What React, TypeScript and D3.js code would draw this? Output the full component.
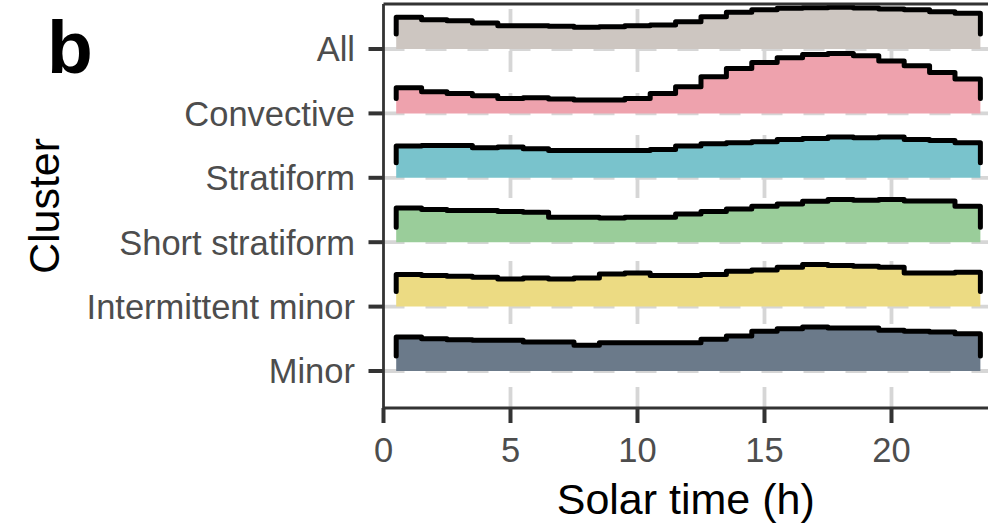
import React from 'react';
import * as d3 from 'd3';

const width = 988;
const height = 525;
const margin = { top: 4, right: 0, bottom: 117, left: 383.5 };

// clusters, top to bottom
const clusters = ['All', 'Convective', 'Stratiform', 'Short stratiform', 'Intermittent minor', 'Minor'];
const colors = ['#cdc6c1', '#eea2ad', '#79c3cc', '#9acd9a', '#ecdb83', '#6b7a8a'];

// hourly bins centred on 1..23 h
const hours = d3.range(1, 24);

const allVals = [3.17, 2.93, 2.83, 2.6, 2.33, 2.33, 2.27, 2.17, 2.23, 2.33, 2.4, 2.73, 3.23, 3.67, 3.93, 4.07, 4.13, 4.17, 4.1, 4.0, 3.93, 3.73, 3.57];
const convectiveVals = [2.57, 2.17, 2.0, 1.77, 1.5, 1.57, 1.43, 1.33, 1.33, 1.5, 2.0, 2.67, 3.67, 4.5, 5.1, 5.57, 5.9, 6.0, 5.77, 5.23, 4.77, 4.1, 3.43];
const stratiformVals = [3.17, 3.23, 3.23, 3.0, 3.07, 2.9, 2.73, 2.73, 2.73, 2.73, 2.83, 3.17, 3.4, 3.5, 3.6, 3.83, 3.93, 4.07, 4.0, 4.07, 3.83, 3.73, 3.5];
const shortStratVals = [3.43, 3.27, 3.17, 3.17, 3.07, 3.0, 2.5, 2.5, 2.43, 2.5, 2.5, 2.83, 3.07, 3.33, 3.6, 3.83, 4.1, 4.27, 4.2, 4.27, 4.13, 4.13, 3.6];
const intermittentVals = [3.2, 3.1, 3.03, 2.93, 2.77, 2.87, 2.77, 2.87, 3.27, 3.37, 3.1, 3.1, 3.2, 3.53, 3.67, 3.93, 4.2, 4.1, 4.03, 3.93, 3.37, 3.37, 3.43];
const minorVals = [3.4, 3.23, 3.13, 3.07, 3.07, 2.9, 2.9, 2.57, 2.83, 2.83, 2.83, 2.83, 3.17, 3.5, 3.97, 4.23, 4.4, 4.3, 4.3, 4.07, 3.97, 3.9, 3.73];

const series = [allVals, convectiveVals, stratiformVals, shortStratVals, intermittentVals, minorVals];

const xTicks = [0, 5, 10, 15, 20];

const axisColor = '#333333';
const gridColor = '#d6d6d6';
const labelColor = '#4d4d4d';
const font = 'Arial, "Liberation Sans", sans-serif';

export default function App() {
  const panelBottom = height - margin.bottom;

  const x = d3.scaleLinear().domain([0, 23.8]).range([margin.left, width - margin.right]);
  const y = d3.scalePoint<string>().domain(clusters).range([49, 371]);
  const h = d3.scaleLinear().domain([0, 6]).range([0, 60]);
  const tail = 15;

  const line = d3.line<[number, number]>().x(d => d[0]).y(d => d[1]);

  const rows = clusters.map((c, ci) => {
    const base = y(c) as number;
    const vals = series[ci];
    const pts: [number, number][] = [];
    hours.forEach((hr, i) => {
      pts.push([x(hr - 0.5), base - h(vals[i])]);
      pts.push([x(hr + 0.5), base - h(vals[i])]);
    });
    const area = d3.area<[number, number]>().x(d => d[0]).y0(base).y1(d => d[1]);
    const outline: [number, number][] = [
      [x(hours[0] - 0.5), base - tail],
      ...pts,
      [x(hours[hours.length - 1] + 0.5), base - tail],
    ];
    return { c, base, fill: colors[ci], areaPath: area(pts) as string, linePath: line(outline) as string };
  });

  return (
    <svg width={width} height={height} style={{ position: 'absolute', left: 0, top: 0, background: '#fff' }} fontFamily={font}>
      {/* grid */}
      {xTicks.filter(t => t > 0).map(t => (
        <line key={'gx' + t} x1={x(t)} x2={x(t)} y1={panelBottom} y2={margin.top}
          stroke={gridColor} strokeWidth={3.8} strokeDasharray="21 21" />
      ))}
      {clusters.map(c => (
        <line key={'gy' + c} x1={margin.left} x2={width} y1={y(c)} y2={y(c)}
          stroke={gridColor} strokeWidth={3.8} strokeDasharray="21 21" />
      ))}

      {/* ridges */}
      {rows.map(r => (
        <g key={r.c}>
          <path d={r.areaPath} fill={r.fill} />
          <path d={r.linePath} fill="none" stroke="#000" strokeWidth={5}
            strokeLinejoin="round" strokeLinecap="round" />
        </g>
      ))}

      {/* axes */}
      <line x1={margin.left} x2={margin.left} y1={margin.top} y2={panelBottom} stroke={axisColor} strokeWidth={2.8} />
      <line x1={margin.left} x2={width} y1={margin.top} y2={margin.top} stroke={axisColor} strokeWidth={2.8} />
      <line x1={margin.left} x2={width} y1={panelBottom} y2={panelBottom} stroke={axisColor} strokeWidth={2.8} />

      {clusters.map(c => (
        <g key={'ty' + c}>
          <line x1={margin.left - 15} x2={margin.left} y1={y(c)} y2={y(c)} stroke={axisColor} strokeWidth={4} />
          <text x={355} y={y(c)} dy="0.36em" textAnchor="end" fontSize={34.5} fill={labelColor}>{c}</text>
        </g>
      ))}

      {xTicks.map(t => (
        <g key={'tx' + t}>
          <line x1={x(t)} x2={x(t)} y1={panelBottom} y2={panelBottom + 15} stroke={axisColor} strokeWidth={4} />
          <text x={x(t)} y={462} textAnchor="middle" fontSize={34.5} fill={labelColor}>{t}</text>
        </g>
      ))}

      <text x={(margin.left + width) / 2} y={514} textAnchor="middle" fontSize={43} fill="#000">Solar time (h)</text>
      <text transform={`translate(59,${(margin.top + panelBottom) / 2}) rotate(-90)`} textAnchor="middle" fontSize={43} fill="#000">Cluster</text>
      <text x={47} y={73} fontSize={75} fontWeight="bold" fill="#000">b</text>
    </svg>
  );
}
